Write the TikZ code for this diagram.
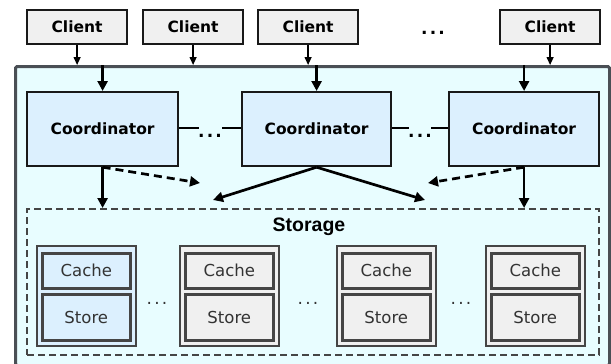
\documentclass[tikz,border=0pt]{standalone}
\usepackage{fontspec}
\setmainfont{DejaVu Sans}
\newfontfamily\labelfont{Liberation Sans}
\usetikzlibrary{arrows.meta,positioning}

\definecolor{outerfill}{HTML}{E8FDFF}
\definecolor{outerline}{HTML}{4A4F55}
\definecolor{coordfill}{HTML}{DCF0FE}
\definecolor{clientfill}{HTML}{F0F0F0}
\definecolor{shardline}{HTML}{454545}
\definecolor{shardtext}{HTML}{333333}

% spaced three-dot ellipsis
\newcommand{\wideDots}{.\kern2.2pt.\kern2.2pt.}

\tikzset{
  px/.style={x=1pt,y=-1pt},
  clientbox/.style={draw=black!90,line width=2.2pt,fill=clientfill,
    font=\fontsize{15.5}{17}\selectfont\bfseries},
  coordbox/.style={draw=black!90,line width=2.2pt,fill=coordfill,
    font=\fontsize{15.5}{17}\selectfont\bfseries},
  shardbox/.style={draw=shardline,line width=2pt},
  partbox/.style={draw=shardline,line width=2.6pt,text=shardtext,
    font=\fontsize{16.5}{18}\selectfont},
  thinarrow/.style={-{Triangle[length=8pt,width=7pt]},line width=1.3pt},
  thickarrow/.style={-{Triangle[length=10pt,width=10pt]},line width=2.7pt},
  dasharrow/.style={thickarrow,dash pattern=on 8pt off 5pt},
  bolddots/.style={font=\fontsize{17}{19}\selectfont\bfseries,inner sep=0pt},
  plaindots/.style={font=\fontsize{17}{19}\selectfont,text=shardtext,inner sep=0pt},
}

\begin{document}
\begin{tikzpicture}[px]
\useasboundingbox (0,0) rectangle (611,364);

% enclosing cluster
\node (cluster) [draw=outerline,line width=3pt,fill=outerfill,rounded corners=1.5pt,
  minimum width=594pt,minimum height=299pt,anchor=north west,inner sep=0pt] at (14,65) {};

% clients
\foreach \n/\x in {c1/26,c2/142,c3/257,c4/499}
  \node (\n) [clientbox,anchor=north west,minimum width=100pt,minimum height=34pt,inner sep=0pt] at (\x,9) {Client};
\node (cdots) [bolddots] at (433,33) {\wideDots};

% coordinators
\foreach \n/\x/\w in {k1/26/151,k2/241/149,k3/448/150}
  \node (\n) [coordbox,anchor=north west,minimum width=\w pt,minimum height=74pt,inner sep=0pt] at (\x,91) {Coordinator};

\node (kd1) [bolddots] at (210,136) {\wideDots};
\node (kd2) [bolddots] at (420,136) {\wideDots};
\coordinate (l1a) at (199,128);
\coordinate (l1b) at (222,128);
\coordinate (l2a) at (409,128);
\coordinate (l2b) at (431,128);
\draw[line width=1.2pt] (k1.east |- l1a) -- (l1a);
\draw[line width=1.2pt] (l1b) -- (k2.west |- l1b);
\draw[line width=1.2pt] (k2.east |- l2a) -- (l2a);
\draw[line width=1.2pt] (l2b) -- (k3.west |- l2b);

% storage area
\node (storage) [draw=shardline,line width=2.2pt,dash pattern=on 7pt off 4pt,
  anchor=north west,minimum width=572pt,minimum height=146pt,inner sep=0pt] at (26,208) {};
\node (stlabel) [font=\labelfont\fontsize{19.5}{22}\selectfont\bfseries,inner sep=0pt] at (309,227) {Storage};

% storage shards
\foreach \n/\x/\f in {s1/36/coordfill,s2/179/clientfill,s3/336/clientfill,s4/485/clientfill}{
  \node (\n) [shardbox,fill=\f,anchor=north west,minimum width=99pt,minimum height=100pt,inner sep=0pt] at (\x,245) {};
  \node (\n c) [partbox,fill=\f,anchor=north west,minimum width=88pt,minimum height=35pt,inner sep=0pt] at ([xshift=5pt,yshift=-7pt]\n.north west) {Cache};
  \node (\n s) [partbox,fill=\f,anchor=north west,minimum width=88pt,minimum height=46pt,inner sep=0pt] at ([xshift=5pt,yshift=-48pt]\n.north west) {Store};
}
\node (sd1) [plaindots] at (157,303) {\wideDots};
\node (sd2) [plaindots] at (308,303) {\wideDots};
\node (sd3) [plaindots] at (461,303) {\wideDots};

% client requests into the cluster
\foreach \n in {c1,c2,c3,c4}
  \draw[thinarrow] (\n.south) -- (\n.south |- cluster.north);

% cluster entry into each coordinator
\foreach \n in {k1,k2,k3}
  \draw[thickarrow] (\n.north |- cluster.north) -- (\n.north);

% coordinators to storage
\coordinate (t1) at (200,183);
\coordinate (t2) at (213,200);
\coordinate (t3) at (425,200);
\coordinate (t4) at (428,183);
\draw[thickarrow] (k1.south) -- (k1.south |- storage.north);
\draw[dasharrow] (k1.south) -- (t1);
\draw[thickarrow] (k2.south) -- (t2);
\draw[thickarrow] (k2.south) -- (t3);
\draw[dasharrow] (k3.south) -- (t4);
\draw[thickarrow] (k3.south) -- (k3.south |- storage.north);
\end{tikzpicture}
\end{document}
